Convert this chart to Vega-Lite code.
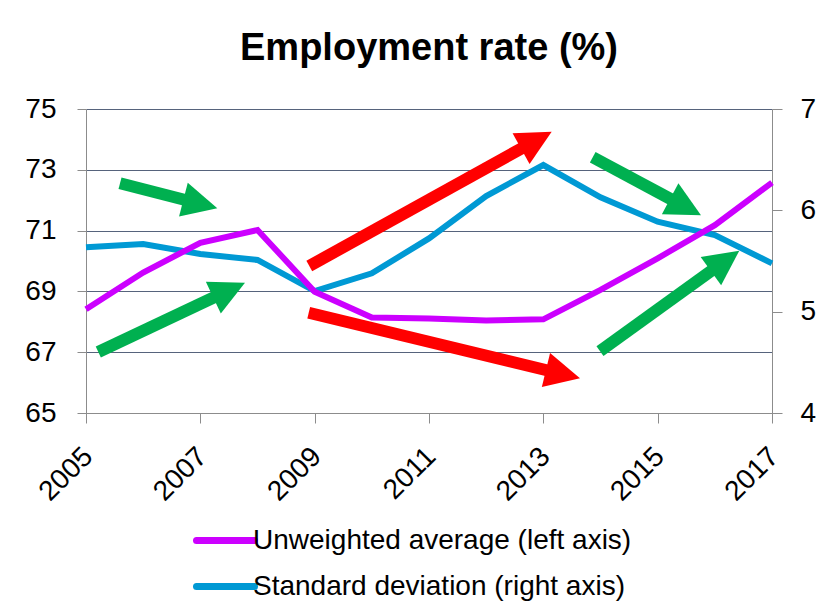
{
  "$schema": "https://vega.github.io/schema/vega-lite/v6.json",
  "width": 686,
  "height": 304,
  "autosize": {"type": "none"},
  "padding": {"left": 86, "top": 109, "right": 51, "bottom": 193},
  "background": "white",
  "title": {
    "text": "Employment rate (%)",
    "font": "Liberation Sans",
    "fontSize": 38,
    "fontWeight": "bold",
    "color": "black",
    "anchor": "middle",
    "frame": "group",
    "baseline": "alphabetic",
    "offset": -3
  },
  "config": {
    "view": {"stroke": null},
    "font": "Liberation Sans"
  },
  "datasets": {
    "avg": [
      {"year": 2005, "series": "Unweighted average (left axis)", "value": 68.41},
      {"year": 2006, "series": "Unweighted average (left axis)", "value": 69.62},
      {"year": 2007, "series": "Unweighted average (left axis)", "value": 70.60},
      {"year": 2008, "series": "Unweighted average (left axis)", "value": 71.02},
      {"year": 2009, "series": "Unweighted average (left axis)", "value": 68.99},
      {"year": 2010, "series": "Unweighted average (left axis)", "value": 68.14},
      {"year": 2011, "series": "Unweighted average (left axis)", "value": 68.11},
      {"year": 2012, "series": "Unweighted average (left axis)", "value": 68.04},
      {"year": 2013, "series": "Unweighted average (left axis)", "value": 68.08},
      {"year": 2014, "series": "Unweighted average (left axis)", "value": 69.05},
      {"year": 2015, "series": "Unweighted average (left axis)", "value": 70.09},
      {"year": 2016, "series": "Unweighted average (left axis)", "value": 71.18},
      {"year": 2017, "series": "Unweighted average (left axis)", "value": 72.58}
    ],
    "sd": [
      {"year": 2005, "series": "Standard deviation (right axis)", "value": 5.635},
      {"year": 2006, "series": "Standard deviation (right axis)", "value": 5.667},
      {"year": 2007, "series": "Standard deviation (right axis)", "value": 5.569},
      {"year": 2008, "series": "Standard deviation (right axis)", "value": 5.51},
      {"year": 2009, "series": "Standard deviation (right axis)", "value": 5.203},
      {"year": 2010, "series": "Standard deviation (right axis)", "value": 5.378},
      {"year": 2011, "series": "Standard deviation (right axis)", "value": 5.723},
      {"year": 2012, "series": "Standard deviation (right axis)", "value": 6.141},
      {"year": 2013, "series": "Standard deviation (right axis)", "value": 6.447},
      {"year": 2014, "series": "Standard deviation (right axis)", "value": 6.128},
      {"year": 2015, "series": "Standard deviation (right axis)", "value": 5.888},
      {"year": 2016, "series": "Standard deviation (right axis)", "value": 5.756},
      {"year": 2017, "series": "Standard deviation (right axis)", "value": 5.477}
    ],
    "arrows": [
      {"type": "improvement", "x1": 2005.595, "y1": 72.556, "x2": 2006.789, "y2": 71.98, "tx": 2007.297, "ty": 71.734, "angle": 14.4},
      {"type": "improvement", "x1": 2005.215, "y1": 67.007, "x2": 2007.307, "y2": 68.865, "tx": 2007.781, "ty": 69.286, "angle": -25.3},
      {"type": "deterioration", "x1": 2008.906, "y1": 69.836, "x2": 2012.688, "y2": 73.776, "tx": 2013.146, "ty": 74.253, "angle": -29.0},
      {"type": "deterioration", "x1": 2008.896, "y1": 68.299, "x2": 2013.131, "y2": 66.372, "tx": 2013.641, "ty": 66.141, "angle": 13.6},
      {"type": "improvement", "x1": 2013.864, "y1": 73.411, "x2": 2015.296, "y2": 71.970, "tx": 2015.758, "ty": 71.503, "angle": 28.2},
      {"type": "improvement", "x1": 2013.991, "y1": 67.039, "x2": 2016.003, "y2": 69.763, "tx": 2016.428, "ty": 70.339, "angle": -35.8}
    ]
  },
  "layer": [
    {
      "data": {"name": "sd"},
      "mark": {"type": "line", "strokeWidth": 6, "strokeJoin": "miter", "strokeCap": "butt"},
      "encoding": {
        "x": {
          "field": "year", "type": "quantitative",
          "scale": {"domain": [2005, 2017], "nice": false, "zero": false},
          "axis": {
            "values": [2005, 2007, 2009, 2011, 2013, 2015, 2017],
            "format": "d", "title": null, "grid": false,
            "labelAngle": -45, "labelAlign": "right", "labelBaseline": "middle",
            "labelFontSize": 28, "labelFont": "Liberation Sans", "labelColor": "black",
            "labelPadding": 29, "labelOffset": 2, "tickSize": 10, "tickColor": "#8c8c8c", "domainColor": "#8c8c8c",
            "labelOverlap": false, "labelFlush": false, "zindex": 1
          }
        },
        "y": {
          "field": "value", "type": "quantitative",
          "scale": {"domain": [4, 7], "nice": false, "zero": false},
          "axis": {
            "orient": "right", "values": [4, 5, 6, 7], "title": null, "grid": false,
            "labelFontSize": 28, "labelFont": "Liberation Sans", "labelColor": "black",
            "labelPadding": 18, "tickSize": 10, "tickColor": "#8c8c8c", "domainColor": "#8c8c8c"
          }
        },
        "color": {
          "field": "series", "type": "nominal",
          "scale": {
            "domain": ["Unweighted average (left axis)", "Standard deviation (right axis)"],
            "range": ["#cc00ff", "#0099d4"]
          },
          "legend": {
            "title": null, "orient": "none", "legendX": 121.5, "legendY": 413.5,
            "direction": "vertical", "padding": 0,
            "symbolType": "M-2,0L2,0", "symbolSize": 841, "symbolStrokeWidth": 7,
            "labelFontSize": 28, "labelFont": "Liberation Sans", "labelColor": "black",
            "labelOffset": 9.5, "rowPadding": 14, "labelLimit": 0,
            "encode": {"symbols": {"update": {"strokeCap": {"value": "round"}, "fill": {"value": "transparent"}}}}
          }
        }
      }
    },
    {
      "data": {"name": "avg"},
      "mark": {"type": "line", "strokeWidth": 6, "strokeJoin": "miter", "strokeCap": "butt"},
      "encoding": {
        "x": {
          "field": "year", "type": "quantitative",
          "scale": {"domain": [2005, 2017], "nice": false, "zero": false}
        },
        "y": {
          "field": "value", "type": "quantitative",
          "scale": {"domain": [65, 75], "nice": false, "zero": false},
          "axis": {
            "orient": "left", "values": [65, 67, 69, 71, 73, 75], "title": null,
            "grid": true, "gridColor": "#56637c", "gridWidth": 1.2,
            "labelFontSize": 28, "labelFont": "Liberation Sans", "labelColor": "black",
            "labelPadding": 21, "tickSize": 9, "tickColor": "#8c8c8c", "domainColor": "#8c8c8c"
          }
        },
        "color": {"field": "series", "type": "nominal"}
      }
    },
    {
      "data": {"name": "arrows"},
      "mark": {"type": "rule", "strokeWidth": 12, "strokeCap": "butt"},
      "encoding": {
        "x": {"field": "x1", "type": "quantitative"},
        "x2": {"field": "x2"},
        "y": {"field": "y1", "type": "quantitative", "scale": {"domain": [65, 75], "nice": false, "zero": false}, "axis": null},
        "y2": {"field": "y2"},
        "stroke": {
          "field": "type", "type": "nominal",
          "scale": {"domain": ["improvement", "deterioration"], "range": ["#00b050", "#ff0000"]},
          "legend": null
        }
      }
    },
    {
      "data": {"name": "arrows"},
      "mark": {"type": "point", "shape": "M0,0L-2,-1L-2,1Z", "size": 1225, "filled": true, "opacity": 1, "strokeWidth": 0},
      "encoding": {
        "x": {"field": "tx", "type": "quantitative"},
        "y": {"field": "ty", "type": "quantitative", "scale": {"domain": [65, 75], "nice": false, "zero": false}, "axis": null},
        "angle": {"field": "angle", "type": "quantitative", "scale": null},
        "fill": {
          "field": "type", "type": "nominal",
          "scale": {"domain": ["improvement", "deterioration"], "range": ["#00b050", "#ff0000"]},
          "legend": null
        }
      }
    }
  ],
  "resolve": {"scale": {"y": "independent"}}
}
